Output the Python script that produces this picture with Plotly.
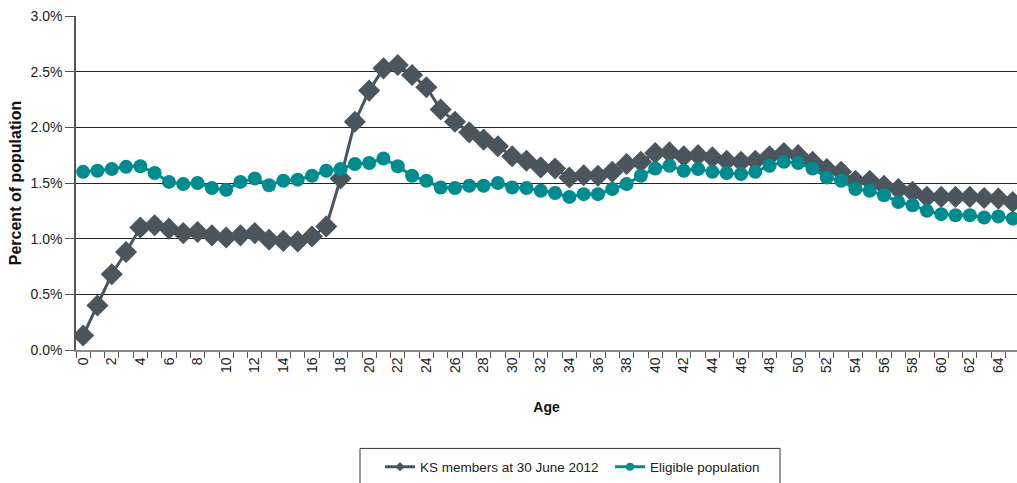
import plotly.graph_objects as go

# Age of member / population (years)
ages = list(range(0, 66))

# Share of total at each age, in percent
ks_members = [
    0.13, 0.40, 0.68, 0.88, 1.10, 1.12, 1.09, 1.05, 1.06, 1.03,
    1.01, 1.03, 1.05, 0.99, 0.98, 0.975, 1.02, 1.11, 1.54, 2.05,
    2.33, 2.53, 2.56, 2.47, 2.36, 2.16, 2.05, 1.955, 1.89, 1.83,
    1.74, 1.70, 1.64, 1.63, 1.55, 1.57, 1.565, 1.60, 1.67, 1.69,
    1.77, 1.775, 1.74, 1.75, 1.73, 1.70, 1.69, 1.70, 1.74, 1.77,
    1.75, 1.69, 1.625, 1.60, 1.52, 1.52, 1.475, 1.445, 1.42, 1.375,
    1.375, 1.375, 1.375, 1.365, 1.36, 1.33,
]
eligible = [
    1.60, 1.61, 1.625, 1.645, 1.65, 1.59, 1.51, 1.49, 1.50, 1.455,
    1.44, 1.51, 1.54, 1.48, 1.52, 1.53, 1.565, 1.61, 1.625, 1.67,
    1.68, 1.72, 1.65, 1.565, 1.52, 1.46, 1.455, 1.475, 1.475, 1.50,
    1.46, 1.455, 1.43, 1.41, 1.375, 1.40, 1.40, 1.445, 1.49, 1.565,
    1.63, 1.655, 1.61, 1.625, 1.60, 1.59, 1.58, 1.60, 1.655, 1.69,
    1.68, 1.63, 1.55, 1.52, 1.445, 1.43, 1.39, 1.33, 1.30, 1.25,
    1.22, 1.21, 1.21, 1.19, 1.20, 1.18,
]

series_names = ["KS members at 30 June 2012", "Eligible population"]
x_tick_ages = list(range(0, 66, 2))
y_ticks = [0.0, 0.5, 1.0, 1.5, 2.0, 2.5, 3.0]
y_tick_text = [f"{v:.1f}%" for v in y_ticks]

FONT = "Liberation Sans Narrow, Arial Narrow, Liberation Sans, Arial, sans-serif"
BOLD_FONT = "Liberation Sans, Arial, sans-serif"
DARK = "#4b555e"
TEAL = "#008b8e"

fig = go.Figure()
fig.add_trace(go.Scatter(
    x=ages, y=ks_members, name=series_names[0], mode="lines+markers",
    line=dict(color=DARK, width=3),
    marker=dict(symbol="diamond", size=17, color=DARK),
    showlegend=False,
))
fig.add_trace(go.Scatter(
    x=ages, y=eligible, name=series_names[1], mode="lines+markers",
    line=dict(color=TEAL, width=3),
    marker=dict(symbol="circle", size=14, color=TEAL),
    showlegend=False,
))

# Legend-only entries with smaller key markers
fig.add_trace(go.Scatter(
    x=[None], y=[None], name=series_names[0], mode="lines+markers",
    line=dict(color=DARK, width=3),
    marker=dict(symbol="diamond", size=7, color=DARK),
))
fig.add_trace(go.Scatter(
    x=[None], y=[None], name=series_names[1], mode="lines+markers",
    line=dict(color=TEAL, width=3),
    marker=dict(symbol="circle", size=8, color=TEAL),
))

# Legend frame
fig.add_shape(
    type="rect", xref="paper", yref="paper",
    x0=(360 - 76) / 941, x1=(780 - 76) / 941,
    y0=(352 - 451) / 336, y1=(352 - 500) / 336,
    line=dict(color="#333", width=1), fillcolor="rgba(0,0,0,0)",
)

fig.update_layout(
    width=1017, height=483,
    margin=dict(l=76, r=0, t=16, b=131),
    paper_bgcolor="white", plot_bgcolor="white",
    font=dict(family=FONT, size=14, color="#222"),
    showlegend=True,
    legend=dict(
        orientation="h", x=(380 - 76) / 941, xanchor="left",
        y=(352 - 454) / 336, yanchor="top",
        borderwidth=0, bgcolor="rgba(0,0,0,0)",
        font=dict(family=FONT, size=13.5, color="#222"),
        entrywidth=185, itemwidth=30,
    ),
    xaxis=dict(
        range=[-0.5, 65.3],
        tickmode="array", tickvals=x_tick_ages,
        ticktext=[str(a) for a in x_tick_ages],
        tickangle=-90, ticks="",
        tickfont=dict(family=FONT, size=14, color="#222"),
        showgrid=False, zeroline=False,
        showline=True, linecolor="#8a8a8a", linewidth=1.5,
        minor=dict(tickmode="linear", tick0=-0.5, dtick=1, ticks="outside",
                   ticklen=6, tickcolor="#555", tickwidth=1, showgrid=False),
        title=dict(text="<b>Age</b>", font=dict(family=BOLD_FONT, size=14, color="#111"),
                   standoff=30),
    ),
    yaxis=dict(
        range=[0, 3.0], tickmode="array", tickvals=y_ticks, ticktext=y_tick_text,
        ticks="outside", ticklen=9, tickcolor="#555",
        tickfont=dict(family=FONT, size=14, color="#222"),
        showgrid=True, gridcolor="#262626", gridwidth=1,
        zeroline=False, showline=True, linecolor="#555", linewidth=1.5,
        title=dict(text="<b>Percent of population</b>",
                   font=dict(family=BOLD_FONT, size=16, color="#111"),
                   standoff=5),
    ),
)

fig.write_html("out.html")
